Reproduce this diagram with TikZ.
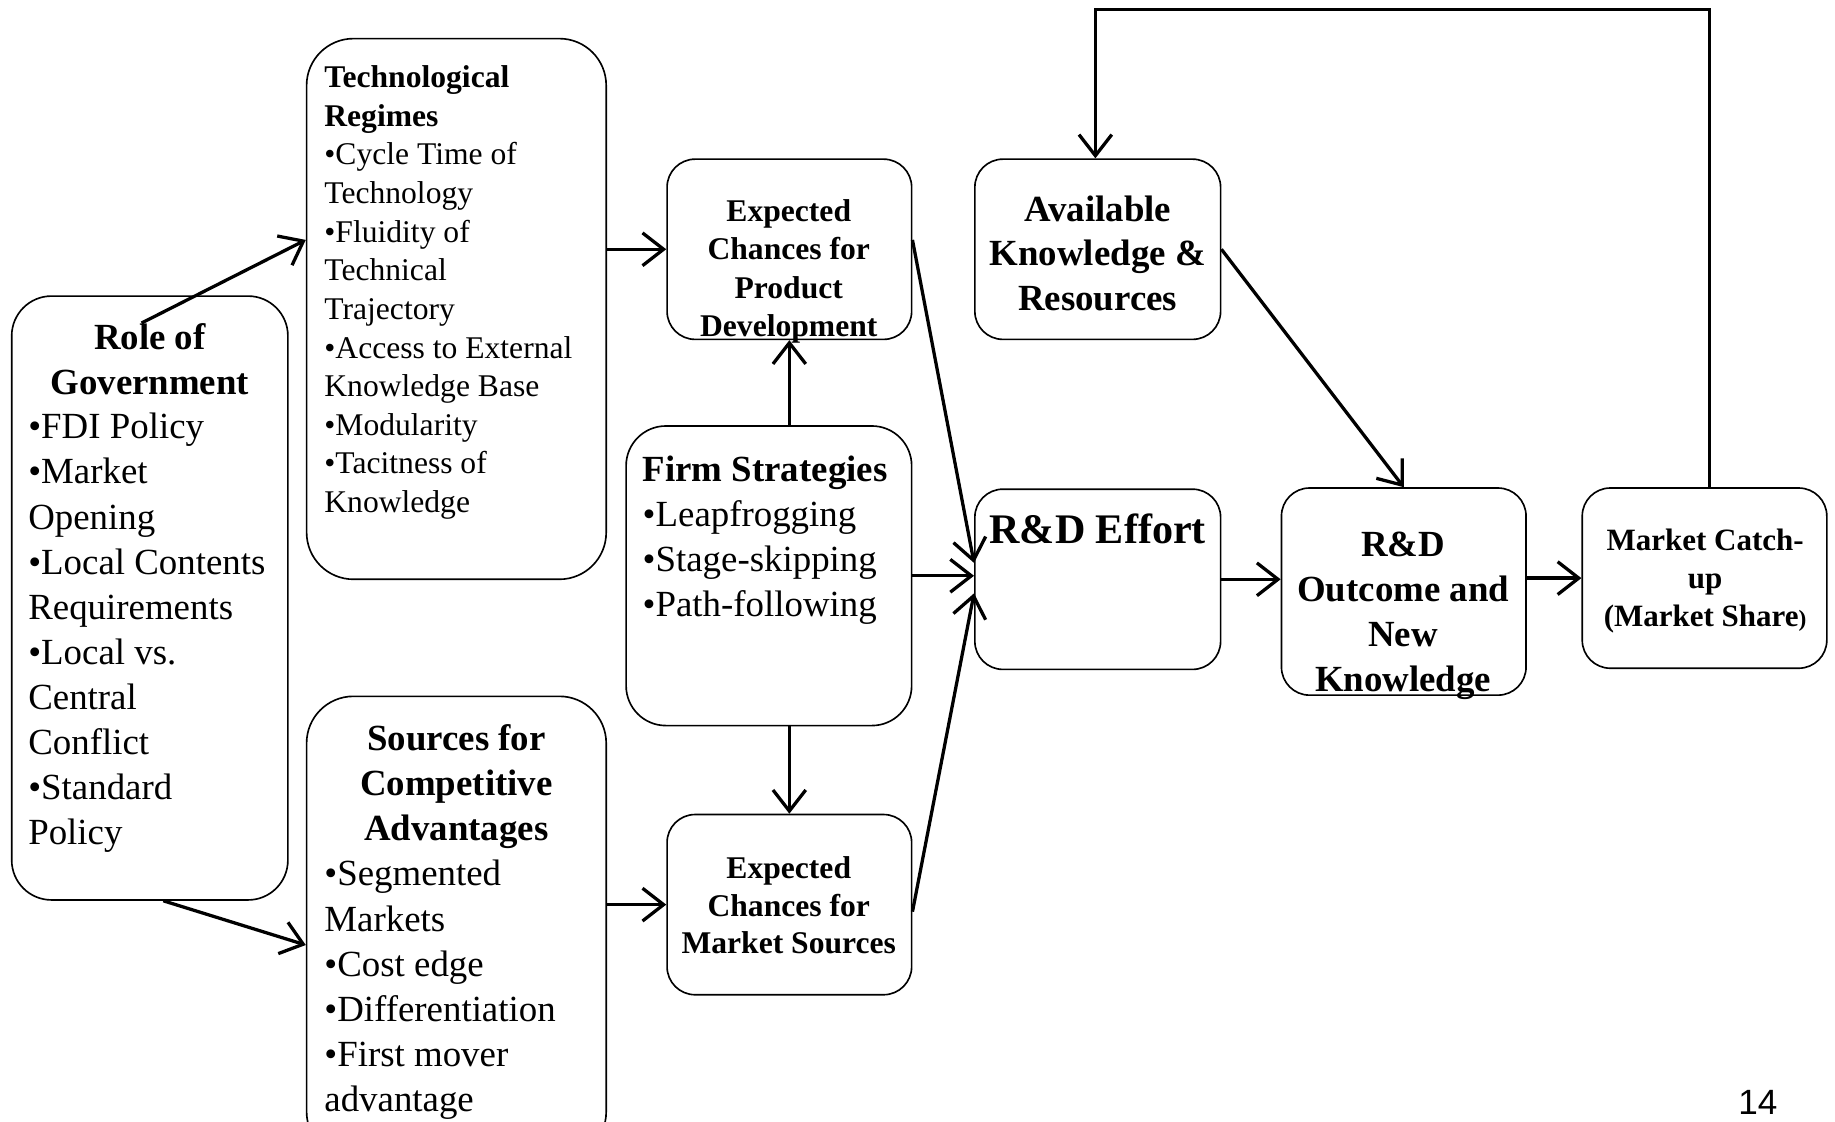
\documentclass[tikz,border=0pt]{standalone}
\usepackage{fontspec}
\setmainfont{Liberation Serif}
\newfontfamily\pagefont{Liberation Sans}
\usetikzlibrary{arrows.meta}

\begin{document}
\begin{tikzpicture}[x=1pt, y=-1pt,
    box/.style={draw, line width=1.4pt, rounded corners=#1, inner sep=0pt},
    box/.default=24pt,
    arr/.style={line width=2.8pt, -{Straight Barb[length=18pt,width=28pt,line width=2.8pt]}},
    big/.style={inner sep=0pt, font=\fontsize{31.5}{38.5}\selectfont},
    bigb/.style={inner sep=0pt, font=\fontsize{31.5}{38.5}\selectfont\bfseries},
    small/.style={inner sep=0pt, font=\fontsize{27}{33}\selectfont},
    smallb/.style={inner sep=0pt, font=\fontsize{27}{33}\selectfont\bfseries}]
        \useasboundingbox (0,0) rectangle (1568,958);

        % Kaders
        \node[box=34pt, minimum width=236pt, minimum height=516pt] (gov) at (128,511) {};
        \node[box=40pt, minimum width=256pt, minimum height=462pt] (tech) at (390,264) {};
        \node[box=40pt, minimum width=256pt, minimum height=395pt] (src) at (390,792.5) {};
        \node[box, minimum width=209pt, minimum height=154pt] (ecpd) at (674.5,213) {};
        \node[box=34pt, minimum width=244pt, minimum height=256pt] (firm) at (657,492) {};
        \node[box, minimum width=209pt, minimum height=154pt] (ecms) at (674.5,773) {};
        \node[box, minimum width=210pt, minimum height=154pt] (avail) at (938,213) {};
        \node[box, minimum width=210pt, minimum height=154pt] (rde) at (938,495) {};
        \node[box, minimum width=209pt, minimum height=177pt] (rdo) at (1199.5,505.5) {};
        \node[box, minimum width=209pt, minimum height=154pt] (mkt) at (1456.5,494) {};

        % Teksten
        \node[bigb, align=center, anchor=north] (govT) at (128,276) {Role of\\Government};
        \node[big, align=left, anchor=north west] (govB) at (24,353)
            {•FDI Policy\\•Market\\Opening\\•Local Contents\\Requirements\\•Local vs.\\Central\\Conflict\\•Standard\\Policy};
        \node[small, align=left, anchor=north west] (techT) at (277,56)
            {\textbf{Technological}\\\textbf{Regimes}\\•Cycle Time of\\Technology\\•Fluidity of\\Technical\\Trajectory\\•Access to External\\Knowledge Base\\•Modularity\\•Tacitness of\\Knowledge};
        \node[bigb, align=center, anchor=north] (srcT) at (390,619) {Sources for\\Competitive\\Advantages};
        \node[big, align=left, anchor=north west] (srcB) at (277,735)
            {•Segmented\\Markets\\•Cost edge\\•Differentiation\\•First mover\\advantage};
        \node[big, align=left, anchor=north west] (firmT) at (549,389)
            {\textbf{Firm Strategies}\\•Leapfrogging\\•Stage-skipping\\•Path-following};
        \node[smallb, align=center, anchor=north] (ecpdT) at (674,170) {Expected\\Chances for\\Product\\Development};
        \node[smallb, font=\fontsize{27}{32}\selectfont\bfseries, align=center, anchor=north] (ecmsT) at (674,732) {Expected\\Chances for\\Market Sources};
        \node[bigb, font=\fontsize{31.5}{38}\selectfont\bfseries, align=center, anchor=north] (availT) at (938,167) {Available\\Knowledge \&\\Resources};
        \node[inner sep=0pt, font=\fontsize{36}{40}\selectfont\bfseries, anchor=north] (rdeT) at (938,439) {R\&D Effort};
        \node[bigb, align=center, anchor=north] (rdoT) at (1199,454) {R\&D\\Outcome and\\New\\Knowledge};
        \node[inner sep=0pt, font=\fontsize{26.5}{32.5}\selectfont\bfseries, align=center, anchor=north] (mktT) at (1457,452)
            {Market Catch-\\up\\(Market Share{\fontsize{20}{20}\selectfont)}};
        \node[inner sep=0pt, font=\pagefont\fontsize{30}{30}\selectfont] (page) at (1502,942) {14};

        % Pijlen
        \coordinate (govStart) at (121,276);
        \draw[arr] (govStart) -- ([yshift=59pt]tech.west);
        \draw[arr] ([xshift=11.5pt]gov.south) -- ([yshift=-15pt]src.west);
        \draw[arr] (tech.east |- ecpd.west) -- (ecpd.west);
        \draw[arr] (src.east |- ecms.west) -- (ecms.west);
        \draw[arr] (ecpd.south |- firm.north) -- (ecpd.south);
        \draw[arr] (ecms.north |- firm.south) -- (ecms.north);
        \draw[arr] ([yshift=8pt]ecpd.east) -- ([yshift=14pt]rde.west);
        \draw[arr] (firm.east) -- (rde.west |- firm.east);
        \draw[arr] ([yshift=-6pt]ecms.east) -- ([yshift=-12pt]rde.west);
        \draw[arr] (rde.east) -- (rdo.west |- rde.east);
        \draw[arr] (rdo.east |- mkt.west) -- (mkt.west);
        \draw[arr] (avail.east) -- (rdo.north);
        % Terugkoppeling
        \coordinate (top) at (0,8);
        \draw[arr] ([xshift=4.5pt]mkt.north) -- ([xshift=4.5pt]mkt.north |- top)
                   -- ([xshift=-2pt]avail.north |- top) -- ([xshift=-2pt]avail.north);
    \end{tikzpicture}
\end{document}
